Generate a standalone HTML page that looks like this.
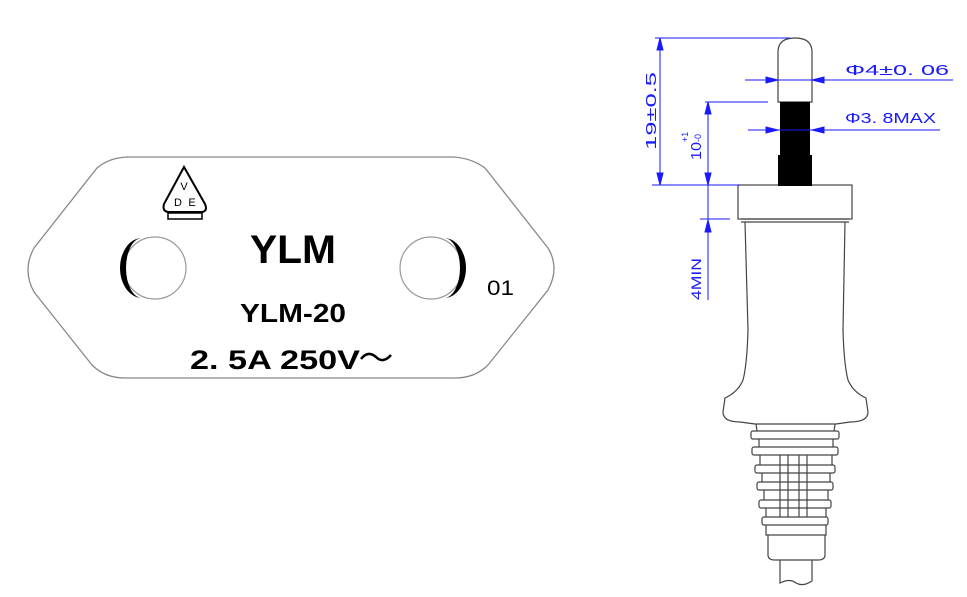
<!DOCTYPE html>
<html><head><meta charset="utf-8"><style>
html,body{margin:0;padding:0;background:#fff;width:967px;height:597px;overflow:hidden}
svg{display:block}
</style></head><body>
<svg width="967" height="597" viewBox="0 0 967 597" xmlns="http://www.w3.org/2000/svg" font-family="Liberation Sans, DejaVu Sans, sans-serif">
<!-- Plate -->
<path d="M130,157 L450,157 Q470,157 485,168 L548,248 Q560,268 548,290 L488,365 Q475,378 455,378 L125,378 Q105,378 92,365 L34,292 Q22,270 34,248 L97,168 Q110,157 130,157 Z" fill="none" stroke="#888" stroke-width="1.3"/>
<circle cx="155" cy="268" r="31" fill="none" stroke="#999" stroke-width="1.2"/>
<path d="M142,238 A22,30 0 0 0 142,298 A16,30 0 0 1 142,238 Z" fill="#000"/>
<circle cx="431" cy="268" r="31" fill="none" stroke="#999" stroke-width="1.2"/>
<path d="M444,238 A22,30 0 0 1 444,298 A16,30 0 0 0 444,238 Z" fill="#000"/>
<!-- VDE -->
<path d="M184,167 L164,204 Q162,211 168,212 L202,212 Q208,211 205,204 Z" fill="none" stroke="#000" stroke-width="2"/>
<rect x="168" y="213" width="34" height="6" fill="none" stroke="#000" stroke-width="1.5"/>
<text x="184" y="190" font-size="11" text-anchor="middle">V</text>
<text x="178" y="206" font-size="11" text-anchor="middle">D</text>
<text x="192" y="206" font-size="11" text-anchor="middle">E</text>
<text x="250" y="263" font-size="40" font-weight="bold" textLength="86" lengthAdjust="spacingAndGlyphs">YLM</text>
<text x="240" y="322" font-size="26" font-weight="bold" textLength="106" lengthAdjust="spacingAndGlyphs">YLM-20</text>
<text x="190" y="369" font-size="27" font-weight="bold" textLength="170" lengthAdjust="spacingAndGlyphs">2. 5A 250V</text>
<path d="M361,359 Q368,350 376,357 Q383,364 391,355" fill="none" stroke="#000" stroke-width="2.5"/>
<text x="487" y="295" font-size="21" textLength="27" lengthAdjust="spacingAndGlyphs">01</text>

<!-- Plug -->
<g fill="none" stroke="#444" stroke-width="1.2">
<path d="M778,102 L778,52 Q778,38 795,38 Q812,38 812,52 L812,102 Z" fill="#fff"/>
<rect x="738" y="185" width="114" height="34"/>
<path d="M741,219 L849,219 M741,222 L849,222"/>
<path d="M745,222 L748,330 Q747,365 743,380 Q738,392 725,398 L723,412 Q723,422 740,422 L755,424 M845,222 L843,330 Q844,365 848,380 Q853,392 866,398 L868,412 Q868,422 850,422 L836,424"/>
<path d="M755,424 L836,424"/>
<rect x="751" y="431" width="88" height="8" rx="2"/>
<rect x="752" y="447" width="86" height="8" rx="2"/>
<rect x="755" y="465" width="80" height="8" rx="2"/>
<rect x="757" y="482" width="76" height="8" rx="2"/>
<rect x="759" y="500" width="72" height="8" rx="2"/>
<rect x="762" y="517" width="66" height="8" rx="2"/>
<path d="M756,424 L757,431 M835,424 L834,431 M759,439 L759,447 M833,439 L833,447 M760,455 L760,465 M832,455 L832,465 M762,473 L762,482 M830,473 L830,482 M764,490 L764,500 M828,490 L828,500 M766,508 L766,517 M826,508 L826,517"/>
<path d="M780,455 L780,517 M788,455 L788,517 M799,455 L799,517 M807,455 L807,517"/>
<path d="M766,525 L766,535 L826,535 L826,525 M768,535 L768,555 Q768,560 775,560 L818,560 Q825,560 825,555 L825,535"/>
<path d="M780,560 L780,583 Q790,578 796,583 Q803,587 812,581 L812,560"/>
</g>
<path d="M780,102 L810,102 L810,155 L812,155 L812,186 L778,186 L778,155 L780,155 Z" fill="#000"/>

<!-- Dimensions -->
<g stroke="#1a1aff" stroke-width="1" fill="#1a1aff">
<path d="M655,38 L790,38 M660,38 L660,185 M652,185 L740,185 M705,102 L768,102 M708,102 L708,300 M700,219 L730,219 M745,80 L953,80 M748,130 L940,130" fill="none"/>
<path d="M660,38 L657,50 L663,50 Z M660,185 L657,173 L663,173 Z M708,102 L705,114 L711,114 Z M708,185 L705,173 L711,173 Z M708,220 L705,232 L711,232 Z"/>
<path d="M778,80 L766,77 L766,83 Z M812,80 L824,77 L824,83 Z M778,130 L766,127 L766,133 Z M812,130 L824,127 L824,133 Z"/>
</g>
<g fill="#1a1aff" font-size="15">
<text transform="translate(656,150) rotate(-90)" textLength="78" lengthAdjust="spacingAndGlyphs">19±0.5</text>
<text transform="translate(701,160) rotate(-90)" textLength="18" lengthAdjust="spacingAndGlyphs">10</text>
<text transform="translate(688,142) rotate(-90)" font-size="9">+1</text>
<text transform="translate(701,142) rotate(-90)" font-size="9">-0</text>
<text transform="translate(701,300) rotate(-90)" font-size="14" textLength="42" lengthAdjust="spacingAndGlyphs">4MIN</text>
<text x="845" y="75" textLength="104" lengthAdjust="spacingAndGlyphs">Φ4±0. 06</text>
<text x="845" y="123" textLength="91" lengthAdjust="spacingAndGlyphs">Φ3. 8MAX</text>
</g>
</svg>
</body></html>
